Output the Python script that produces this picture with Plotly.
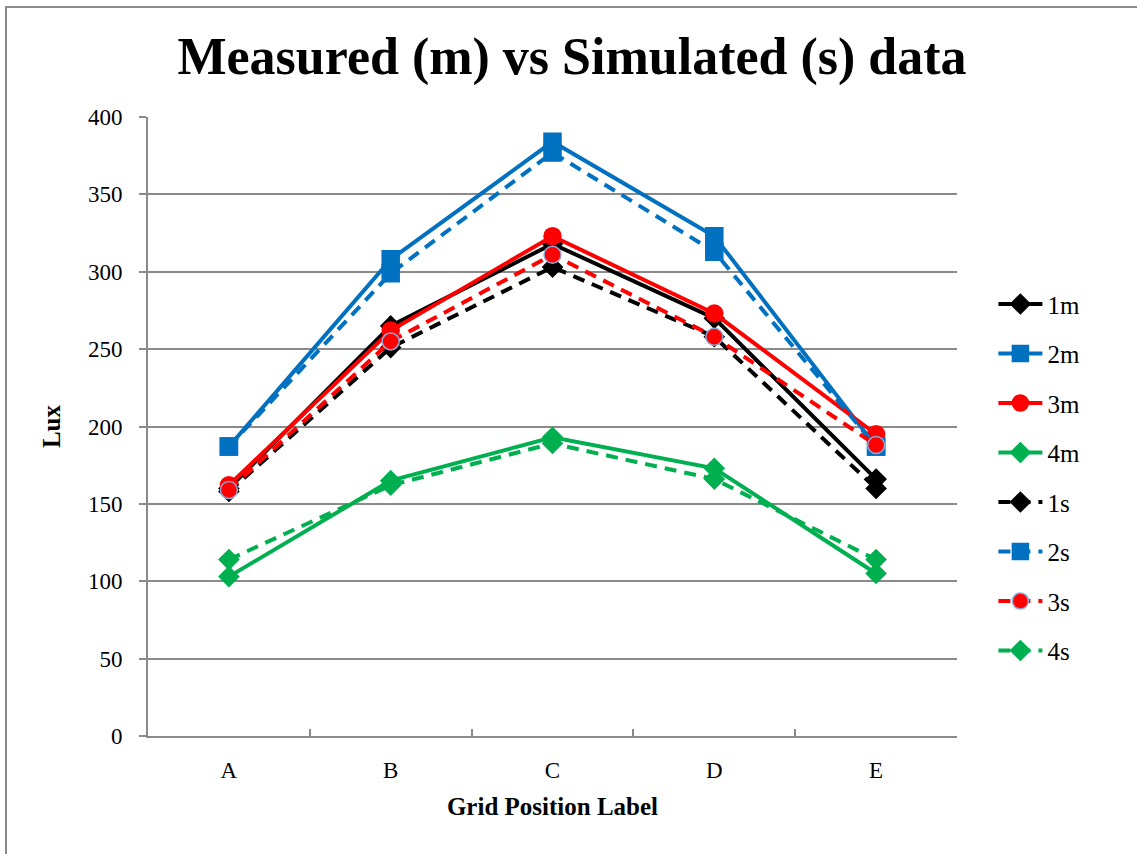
import plotly.graph_objects as go

# Grid positions along the x axis
positions = ["A", "B", "C", "D", "E"]

# Measured illuminance (lux)
m1 = [160, 265, 318, 270, 166]
m2 = [187, 308, 384, 323, 187]
m3 = [162, 262, 323, 273, 195]
m4 = [103, 165, 193, 173, 105]

# Simulated illuminance (lux)
s1 = [158, 251, 303, 258, 160]
s2 = [187, 299, 377, 313, 187]
s3 = [159, 255, 311, 258, 188]
s4 = [114, 162, 189, 166, 114]

BLACK = "#000000"
BLUE = "#0070C0"
RED = "#FF0000"
GREEN = "#00B050"

series = [
    ("1m", m1, BLACK, "solid", "diamond", 15, BLACK),
    ("2m", m2, BLUE, "solid", "square", 17, BLUE),
    ("3m", m3, RED, "solid", "circle", 17, RED),
    ("4m", m4, GREEN, "solid", "diamond", 15, GREEN),
    ("1s", s1, BLACK, "dash", "diamond", 15, BLACK),
    ("2s", s2, BLUE, "dash", "square", 17, BLUE),
    ("3s", s3, RED, "dash", "circle", 17, "#8EA9DB"),
    ("4s", s4, GREEN, "dash", "diamond", 15, GREEN),
]

fig = go.Figure()
for name, vals, col, dash, sym, size, edge in series:
    fig.add_trace(go.Scatter(
        x=positions, y=vals, name=name, mode="lines+markers",
        legendgroup=name,
        line=dict(color=col, width=4, dash=dash if dash == "solid" else "12px,8px"),
        marker=dict(symbol=sym, size=size, color=col,
                    line=dict(color=edge, width=1.5)),
    ))

serif = "Liberation Serif, DejaVu Serif, serif"
grid = "#8a8a8a"

fig.update_layout(
    width=1137, height=854,
    paper_bgcolor="white", plot_bgcolor="white",
    margin=dict(l=148, r=180, t=117, b=118),
    title=dict(text="<b>Measured (m) vs Simulated (s) data</b>",
               x=572 / 1137, xanchor="center", xref="container",
               y=0.935, yanchor="middle",
               font=dict(family=serif, size=52, color="black")),
    font=dict(family=serif, size=22, color="black"),
    showlegend=True,
    legend=dict(x=1.045, xanchor="left", y=0.418, yanchor="middle",
                font=dict(family=serif, size=25, color="black"),
                tracegroupgap=14, itemwidth=44,
                bgcolor="rgba(0,0,0,0)"),
    xaxis=dict(
        type="category", range=[-0.5, 4.5], showgrid=False,
        showline=True, linecolor=grid, linewidth=2,
        ticks="inside", tickson="boundaries", ticklen=7, tickwidth=2, tickcolor=grid,
        tickfont=dict(family=serif, size=23),
        ticklabelstandoff=12,
        title=dict(text="<b>Grid Position Label</b>", standoff=16,
                   font=dict(family=serif, size=25)),
    ),
    yaxis=dict(
        range=[0, 400], dtick=50,
        showgrid=True, gridcolor=grid, gridwidth=1.5,
        showline=True, linecolor=grid, linewidth=2,
        ticks="outside", ticklen=7, tickwidth=2, tickcolor=grid,
        tickfont=dict(family=serif, size=23),
        ticklabelstandoff=12,
        zeroline=False,
        title=dict(text="<b>Lux</b>", standoff=20,
                   font=dict(family=serif, size=25)),
    ),
    shapes=[dict(type="rect", xref="paper", yref="paper",
                 x0=(6 - 148) / 809, x1=(1150 - 148) / 809,
                 y0=(736 - 870) / 619, y1=(736 - 7) / 619,
                 line=dict(color="#8a8a8a", width=2), fillcolor="rgba(0,0,0,0)",
                 layer="below")],
)

fig.write_html("out.html")
